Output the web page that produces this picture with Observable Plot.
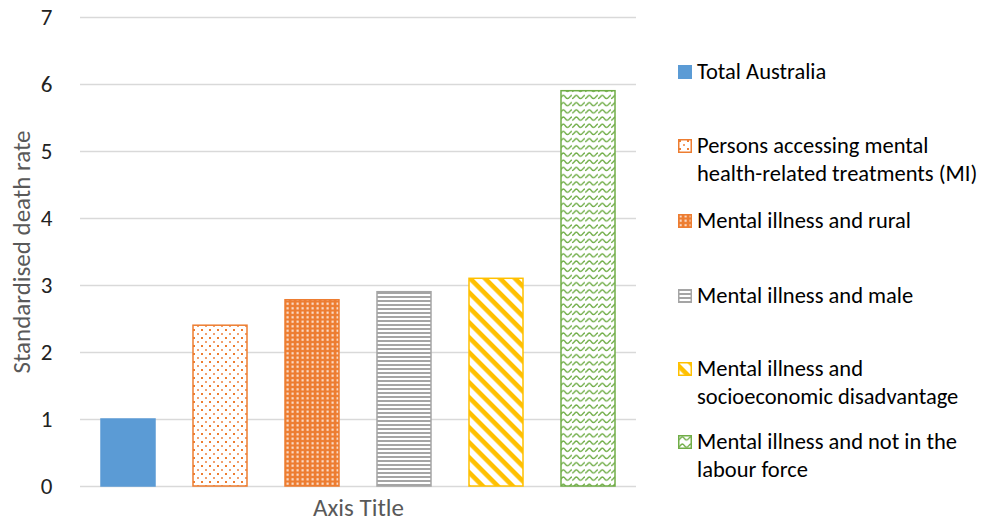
<!DOCTYPE html>
<html>
<head>
<meta charset="utf-8">
<script src="https://cdn.jsdelivr.net/npm/d3@7"></script>
<script src="https://cdn.jsdelivr.net/npm/@observablehq/plot@0.6"></script>
<style>
  html, body { margin: 0; padding: 0; background: #fff; }
  #wrap { position: relative; width: 1003px; height: 522px; overflow: hidden; font-family: Carlito, Calibri, Lato, sans-serif; }
  #chart { position: absolute; left: 0; top: 0; }
  .entry { position: absolute; left: 678px; display: flex; align-items: flex-start; font-size: 22.5px; line-height: 28px; color: #000; white-space: pre; }
  .entry svg { flex: none; margin-top: 7px; margin-right: 5px; }
</style>
</head>
<body>
<div id="wrap"><div id="chart"></div><div id="legend"></div></div>
<script>
const categories = [
  "Total Australia",
  "Persons accessing mental\nhealth-related treatments (MI)",
  "Mental illness and rural",
  "Mental illness and male",
  "Mental illness and\nsocioeconomic disadvantage",
  "Mental illness and not in the\nlabour force"
];
const values = [1.0, 2.4, 2.78, 2.9, 3.1, 5.9];
const yTicks = [0, 1, 2, 3, 4, 5, 6, 7];
const yTitle = "Standardised death rate";
const xTitle = "Axis Title";

const data = categories.map((c, i) => ({cat: c, value: values[i]}));

const fills = ["#5B9BD5", "url(#p-dots)", "url(#p-grid)", "url(#p-hlines)", "url(#p-diag)", "url(#p-wave)"];
const strokes = ["#5B9BD5", "#ED7D31", "#ED7D31", "#A5A5A5", "#FFC000", "#70AD47"];
const legendTops = [72, 146, 221, 296, 369, 442];

const font = "Carlito, Calibri, Lato, sans-serif";

const chart = Plot.plot({
  width: 645,
  height: 522,
  marginTop: 17,
  marginBottom: 36,
  marginLeft: 80,
  marginRight: 9,
  style: {fontFamily: font, fontSize: "23px", color: "#222", background: "transparent", overflow: "visible"},
  x: {domain: categories, paddingInner: 0.417, paddingOuter: 0.2085, axis: null},
  y: {domain: [0, 7], axis: null},
  marks: [
    Plot.gridY(yTicks, {stroke: "#D9D9D9", strokeOpacity: 1, strokeWidth: 1.5}),
    Plot.axisY(yTicks, {tickSize: 0, tickPadding: 28, label: null, fontSize: 23, fill: "#222", tickFormat: d3.format("d")}),
    ...categories.map((c, i) =>
      Plot.barY(data.filter(d => d.cat === c), {x: "cat", y: "value", fill: fills[i], stroke: strokes[i], strokeWidth: 1.5})
    ),
    Plot.text([xTitle], {frameAnchor: "bottom", dy: 21, fill: "#595959", fontSize: 25, textAnchor: "middle", lineAnchor: "middle"}),
    Plot.text([yTitle], {frameAnchor: "left", dx: -59, rotate: -90, fill: "#595959", fontSize: 25, textAnchor: "middle", lineAnchor: "middle"})
  ]
});

const defs = `
<pattern id="p-dots" patternUnits="userSpaceOnUse" width="8" height="8">
  <rect width="8" height="8" fill="#fff"/>
  <rect x="1" y="1" width="2" height="2" fill="#ED7D31"/>
  <rect x="5" y="5" width="2" height="2" fill="#F2A06E"/>
</pattern>
<pattern id="p-grid" patternUnits="userSpaceOnUse" width="5" height="4.5">
  <rect width="5" height="4.5" fill="#ED7D31"/>
  <rect x="1.5" y="1.2" width="2.2" height="2.1" fill="#FBE2D3"/>
</pattern>
<pattern id="p-hlines" patternUnits="userSpaceOnUse" width="4" height="4">
  <rect width="4" height="4" fill="#fff"/>
  <rect y="0" width="4" height="2" fill="#A5A5A5"/>
</pattern>
<pattern id="p-diag" patternUnits="userSpaceOnUse" width="10.6" height="10.6" patternTransform="rotate(45)">
  <rect width="10.6" height="10.6" fill="#fff"/>
  <rect y="0" width="10.6" height="4.6" fill="#FFC000"/>
</pattern>
<pattern id="p-wave" patternUnits="userSpaceOnUse" width="13" height="7.2">
  <rect width="13" height="7.2" fill="#fff"/>
  <path d="M0,5 C2,5 2.5,2 4.3,1.8 C6.2,1.8 6.5,5 8.7,5 C10.5,5 11,1.8 13,1.8" fill="none" stroke="#70AD47" stroke-width="1.4"/>
</pattern>`;
d3.select(chart).insert("defs", ":first-child").html(defs);
document.getElementById("chart").appendChild(chart);

const legend = d3.select("#legend");
categories.forEach((c, i) => {
  const e = legend.append("div").attr("class", "entry").style("top", (legendTops[i] - 14) + "px");
  const s = e.append("svg").attr("width", 14).attr("height", 14);
  s.append("rect").attr("x", 0.75).attr("y", 0.75).attr("width", 12.5).attr("height", 12.5)
    .attr("fill", fills[i]).attr("stroke", strokes[i]).attr("stroke-width", 1.5);
  e.append("span").text(c);
});
</script>
</body>
</html>
